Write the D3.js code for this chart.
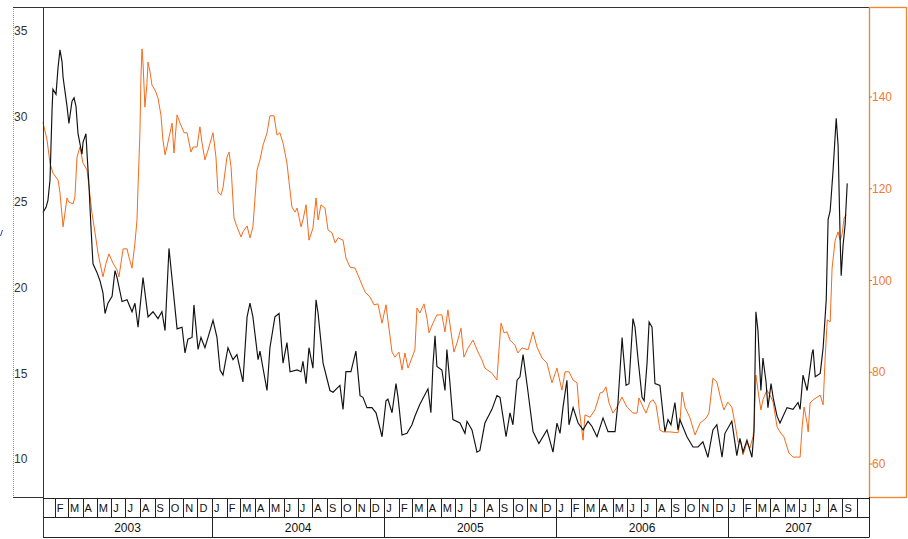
<!DOCTYPE html>
<html>
<head>
<meta charset="utf-8">
<script src="https://cdn.jsdelivr.net/npm/d3@7"></script>
<style>
  body { margin: 0; background: #fff; }
  svg { display: block; font-family: "Liberation Sans", Arial, sans-serif; }
</style>
</head>
<body>
<svg width="908" height="539"></svg>
<script>
// time as decimal years
var blackT = [2003.016,2003.034,2003.045,2003.057,2003.069,2003.074,2003.092,2003.104,2003.115,2003.127,2003.133,2003.156,2003.167,2003.185,2003.197,2003.208,2003.220,2003.243,2003.249,2003.266,2003.272,2003.284,2003.295,2003.307,2003.330,2003.348,2003.365,2003.377,2003.394,2003.418,2003.435,2003.447,2003.476,2003.505,2003.534,2003.551,2003.569,2003.598,2003.627,2003.656,2003.685,2003.708,2003.726,2003.749,2003.767,2003.796,2003.825,2003.842,2003.859,2003.883,2003.894,2003.918,2003.935,2003.958,2003.976,
  2004.005,2004.028,2004.046,2004.063,2004.092,2004.121,2004.144,2004.179,2004.203,2004.220,2004.237,2004.267,2004.278,2004.319,2004.336,2004.365,2004.389,2004.412,2004.435,2004.453,2004.494,2004.517,2004.528,2004.546,2004.563,2004.586,2004.604,2004.616,2004.645,2004.685,2004.703,2004.743,2004.761,2004.778,2004.807,2004.836,2004.860,2004.877,2004.900,2004.929,2004.953,2004.988,
  2005.011,2005.022,2005.046,2005.069,2005.081,2005.104,2005.133,2005.162,2005.179,2005.208,2005.255,2005.272,2005.284,2005.296,2005.307,2005.336,2005.354,2005.365,2005.383,2005.400,2005.441,2005.470,2005.482,2005.511,2005.540,2005.557,2005.586,2005.627,2005.656,2005.674,2005.709,2005.732,2005.749,2005.773,2005.790,2005.808,2005.837,2005.866,2005.900,2005.947,2005.982,
  2006.005,2006.023,2006.040,2006.063,2006.075,2006.099,2006.128,2006.157,2006.186,2006.209,2006.238,2006.273,2006.302,2006.343,2006.360,2006.384,2006.389,2006.407,2006.424,2006.447,2006.459,2006.477,2006.500,2006.512,2006.529,2006.541,2006.558,2006.575,2006.604,2006.633,2006.651,2006.668,2006.691,2006.709,2006.720,2006.761,2006.796,2006.825,2006.854,2006.883,2006.912,2006.935,2006.965,2006.982,
  2007.022,2007.051,2007.069,2007.087,2007.110,2007.139,2007.151,2007.162,2007.174,2007.191,2007.203,2007.221,2007.232,2007.250,2007.262,2007.285,2007.302,2007.343,2007.378,2007.407,2007.419,2007.436,2007.460,2007.489,2007.495,2007.507,2007.536,2007.553,2007.571,2007.582,2007.594,2007.611,2007.629,2007.640,2007.652,2007.658,2007.669,2007.681,2007.693];
var blackV = [24.4,24.7,25.1,26.3,30.4,31.6,31.3,32.9,33.9,33.2,32.3,30.6,29.6,30.9,31.1,30.6,29.0,27.8,28.5,29.0,27.9,25.9,23.6,21.4,20.9,20.4,19.7,18.5,19.1,19.5,21.0,20.6,19.2,19.3,18.6,19.1,17.7,20.6,18.3,18.6,18.2,18.6,17.5,22.3,20.5,17.6,17.7,16.2,17.0,17.1,19.0,16.4,17.1,16.5,17.1,
  18.1,17.1,15.2,14.9,16.5,15.8,16.1,14.5,18.3,19.1,18.3,15.8,16.3,14.0,16.5,18.3,18.5,15.6,16.8,15.1,15.2,15.1,15.7,14.4,16.5,15.3,19.3,18.5,15.6,14.0,13.9,14.3,12.9,15.1,15.1,16.3,13.7,13.6,13.0,13.0,12.7,11.3,
  13.4,13.5,12.7,14.4,13.6,11.4,11.5,12.0,12.5,13.2,14.1,12.7,15.5,17.2,15.4,15.2,14.0,16.4,14.4,12.3,12.1,11.5,12.2,11.7,10.4,10.5,12.1,12.9,13.7,13.6,11.3,12.7,12.0,14.6,14.8,16.1,13.9,11.6,10.9,11.7,10.4,
  12.1,11.5,13.0,14.6,12.0,13.0,12.1,11.7,12.2,11.9,11.3,12.4,11.6,11.6,13.3,17.1,16.4,14.3,14.4,18.2,17.7,15.8,13.6,13.4,15.6,18.0,17.7,14.4,14.3,11.6,12.3,12.0,13.3,11.7,12.3,11.3,10.7,10.7,11.0,10.1,11.7,12.0,10.1,11.5,
  12.2,10.2,11.2,10.4,11.1,10.1,11.6,18.6,17.5,14.0,15.9,14.5,13.0,14.4,13.6,12.5,12.1,13.0,12.9,13.3,12.9,14.9,14.0,16.2,16.4,14.8,15.0,16.5,19.3,24.0,24.5,26.9,29.9,28.3,22.8,20.7,22.5,23.7,26.1];

var orangeT = [2003.016,2003.040,2003.057,2003.074,2003.104,2003.115,2003.133,2003.144,2003.156,2003.167,2003.191,2003.202,2003.214,2003.231,2003.249,2003.272,2003.284,2003.301,2003.319,2003.336,2003.348,2003.365,2003.383,2003.400,2003.423,2003.447,2003.458,2003.482,2003.505,2003.516,2003.534,2003.551,2003.563,2003.569,2003.580,2003.586,2003.592,2003.598,2003.609,2003.621,2003.627,2003.639,2003.650,2003.668,2003.685,2003.702,2003.714,2003.726,2003.737,2003.755,2003.767,2003.778,2003.796,2003.813,2003.837,2003.854,2003.877,2003.889,2003.912,2003.929,2003.941,2003.958,2003.976,
  2004.005,2004.022,2004.034,2004.051,2004.063,2004.086,2004.098,2004.110,2004.127,2004.144,2004.168,2004.179,2004.203,2004.220,2004.237,2004.261,2004.278,2004.296,2004.319,2004.336,2004.360,2004.377,2004.394,2004.412,2004.435,2004.447,2004.464,2004.482,2004.494,2004.517,2004.528,2004.546,2004.563,2004.586,2004.604,2004.616,2004.633,2004.656,2004.674,2004.697,2004.715,2004.732,2004.761,2004.778,2004.802,2004.831,2004.860,2004.889,2004.918,2004.941,2004.964,2004.988,
  2005.011,2005.022,2005.046,2005.063,2005.086,2005.104,2005.121,2005.139,2005.179,2005.191,2005.208,2005.232,2005.249,2005.261,2005.284,2005.307,2005.336,2005.354,2005.371,2005.389,2005.406,2005.424,2005.447,2005.464,2005.488,2005.517,2005.546,2005.569,2005.586,2005.627,2005.656,2005.668,2005.680,2005.697,2005.715,2005.732,2005.761,2005.778,2005.802,2005.837,2005.866,2005.889,2005.918,2005.947,2005.976,
  2006.005,2006.034,2006.052,2006.075,2006.099,2006.122,2006.133,2006.157,2006.168,2006.197,2006.226,2006.256,2006.273,2006.290,2006.308,2006.331,2006.354,2006.383,2006.412,2006.447,2006.471,2006.482,2006.506,2006.523,2006.546,2006.564,2006.581,2006.604,2006.622,2006.662,2006.709,2006.720,2006.732,2006.750,2006.779,2006.808,2006.837,2006.872,2006.889,2006.912,2006.935,2006.959,2006.976,2006.999,
  2007.022,2007.040,2007.058,2007.075,2007.087,2007.110,2007.127,2007.145,2007.151,2007.162,2007.174,2007.191,2007.203,2007.226,2007.244,2007.262,2007.285,2007.302,2007.325,2007.354,2007.378,2007.419,2007.431,2007.442,2007.460,2007.466,2007.477,2007.495,2007.536,2007.553,2007.565,2007.577,2007.594,2007.605,2007.623,2007.640,2007.652,2007.663,2007.675,2007.687];
var orangeV = [134.5,130.6,125.6,123.4,121.9,119.1,111.7,114.7,118.0,117.1,116.7,118.2,126.9,129.1,125.6,124.1,120.4,114.7,110.4,106.0,103.8,100.8,103.8,105.8,103.8,102.3,100.8,106.9,106.9,105.1,102.7,108.2,113.2,120.4,132.2,144.4,150.5,147.4,137.8,143.1,147.6,145.4,142.6,141.5,139.8,136.1,130.6,127.4,129.1,132.2,134.3,127.8,136.1,134.3,132.2,132.2,128.0,129.1,129.1,133.5,130.0,126.3,128.4,
  132.2,126.9,119.3,118.6,120.2,126.9,128.0,124.7,113.6,111.7,109.5,110.6,111.9,109.3,111.7,124.1,126.3,129.5,132.2,135.9,135.9,131.7,132.2,130.0,125.6,121.5,116.0,114.9,115.8,111.7,113.2,116.5,108.8,111.4,118.0,113.2,116.5,115.8,111.0,110.4,108.2,109.3,108.8,104.9,102.9,102.7,100.1,97.5,96.4,94.7,94.9,90.7,
  94.7,91.4,84.4,83.3,84.4,80.5,84.2,80.9,84.9,94.0,92.9,94.9,91.8,88.6,90.7,92.5,92.5,88.8,93.6,88.8,84.4,86.4,89.6,83.3,85.3,87.0,84.4,82.7,80.9,79.8,78.3,84.9,90.7,88.6,88.8,87.0,85.9,84.2,85.3,84.9,88.8,85.5,83.1,82.0,77.7,
  80.9,76.1,80.1,80.1,78.3,77.7,72.4,65.2,70.7,70.2,71.8,75.5,75.7,76.8,73.3,71.1,72.4,74.6,72.4,71.1,71.1,74.4,72.4,71.1,73.5,74.0,72.9,67.4,67.0,67.0,66.8,68.9,75.7,72.4,70.0,66.3,68.9,70.0,71.1,78.7,77.9,74.0,71.8,73.5,
  72.4,68.9,64.8,64.8,62.0,64.6,63.5,65.9,68.1,79.4,76.1,71.8,74.0,76.1,75.0,73.5,68.1,67.0,65.9,62.4,61.5,61.5,68.1,72.4,68.9,67.0,73.3,74.0,75.0,72.9,83.3,91.4,91.0,102.7,108.8,110.6,108.8,110.1,113.6,114.3];

var leftTicks = [10, 15, 20, 25, 30, 35];
var rightTicks = [60, 80, 100, 120, 140];
var monthLabels = ["J","F","M","A","M","J","J","A","S","O","N","D"];
var years = [2003, 2004, 2005, 2006, 2007];

var svg = d3.select("svg");
// note: "top" is taken by window.top, so use plot* names
var plotL = 43, plotR = 869, plotT = 7, plotB = 497;

function toDate(t) {
  return new Date(Date.UTC(2003, 0, 1) + (t - 2003) * 365.25 * 864e5);
}

var x = d3.scaleUtc()
    .domain([toDate(2003.0163), toDate(2007.8197)])
    .range([plotL, plotR]);
var yL = d3.scaleLinear().domain([7.78, 36.402]).range([plotB, plotT]);
var yR = d3.scaleLinear().domain([52.807, 159.619]).range([plotB, plotT]);

// frames
svg.append("line").attr("x1", 13.5).attr("x2", 13.5).attr("y1", plotT).attr("y2", plotB)
   .attr("stroke", "#999").attr("stroke-dasharray", "1,1");
svg.append("line").attr("x1", 13).attr("x2", plotR).attr("y1", plotT + 0.5).attr("y2", plotT + 0.5)
   .attr("stroke", "#333");
svg.append("line").attr("x1", 13).attr("x2", plotL).attr("y1", plotB + 0.5).attr("y2", plotB + 0.5)
   .attr("stroke", "#333");
svg.append("rect").attr("x", plotR + 0.5).attr("y", plotT + 0.5).attr("width", 906 - plotR).attr("height", plotB - plotT)
   .attr("fill", "none").attr("stroke", "#f7842c").attr("stroke-width", 1.3);
svg.append("line").attr("x1", plotR + 0.5).attr("x2", plotR + 0.5).attr("y1", plotT + 1).attr("y2", plotB)
   .attr("stroke", "#999").attr("stroke-dasharray", "1,1");

// left axis labels
svg.selectAll(".ltick").data(leftTicks).enter().append("text")
   .attr("x", 14).attr("y", function(d) { return yL(d); })
   .attr("dy", "0.35em").attr("font-size", "12px").attr("fill", "#333")
   .text(function(d) { return d; });

// right axis ticks and labels
svg.selectAll(".rmark").data(rightTicks).enter().append("line")
   .attr("x1", plotR).attr("x2", plotR + 3)
   .attr("y1", function(d) { return yR(d); }).attr("y2", function(d) { return yR(d); })
   .attr("stroke", "#888");
svg.selectAll(".rtick").data(rightTicks).enter().append("text")
   .attr("x", plotR + 3).attr("y", function(d) { return yR(d); })
   .attr("dy", "0.35em").attr("font-size", "12px").attr("fill", "#f07a30")
   .text(function(d) { return d; });

// little blue mark at left edge
svg.append("line").attr("x1", 0.5).attr("x2", 2.5).attr("y1", 236).attr("y2", 230)
   .attr("stroke", "#3344aa");

// lines
var lineL = d3.line()
    .x(function(d) { return x(toDate(d[0])); })
    .y(function(d) { return yL(d[1]); });
var lineR = d3.line()
    .x(function(d) { return x(toDate(d[0])); })
    .y(function(d) { return yR(d[1]); });

svg.append("path").datum(d3.zip(orangeT, orangeV))
   .attr("d", lineR).attr("fill", "none").attr("stroke", "#f66a1a").attr("stroke-width", 1);
svg.append("path").datum(d3.zip(blackT, blackV))
   .attr("d", lineL).attr("fill", "none").attr("stroke", "#111").attr("stroke-width", 1.15);

// plot left border
svg.append("line").attr("x1", plotL + 0.5).attr("x2", plotL + 0.5).attr("y1", plotT).attr("y2", 537)
   .attr("stroke", "#333");

// month / year rows
var axisTop = 498.5, midRow = 517.5, axisBot = 537.5;
var d0 = x.domain()[0], d1 = x.domain()[1];
var g = svg.append("g").attr("stroke", "#222");
g.append("line").attr("x1", plotL).attr("x2", plotR).attr("y1", axisTop).attr("y2", axisTop);
g.append("line").attr("x1", plotL).attr("x2", plotR).attr("y1", midRow).attr("y2", midRow);
g.append("line").attr("x1", plotL).attr("x2", plotR).attr("y1", axisBot).attr("y2", axisBot);
g.append("line").attr("x1", plotR + 0.5).attr("x2", plotR + 0.5).attr("y1", plotB).attr("y2", axisBot);

var months = d3.utcMonth.range(d3.utcMonth.ceil(d0), d1);
g.selectAll(".msep").data(months).enter().append("line")
   .attr("x1", function(d) { return Math.round(x(d)) + 0.5; })
   .attr("x2", function(d) { return Math.round(x(d)) + 0.5; })
   .attr("y1", axisTop).attr("y2", midRow);

var fullMonths = months.filter(function(d) { return d3.utcMonth.offset(d, 1) <= d1; });
svg.selectAll(".mlab").data(fullMonths).enter().append("text")
   .attr("x", function(d) { return x(d) + 2; })
   .attr("y", 512)
   .attr("font-size", "11px").attr("fill", "#111")
   .text(function(d) { return monthLabels[d.getUTCMonth()]; });

var yearStarts = years.slice(1).map(function(yr) { return new Date(Date.UTC(yr, 0, 1)); });
g.selectAll(".ysep").data(yearStarts).enter().append("line")
   .attr("x1", function(d) { return Math.round(x(d)) + 0.5; })
   .attr("x2", function(d) { return Math.round(x(d)) + 0.5; })
   .attr("y1", midRow).attr("y2", axisBot);

svg.selectAll(".ylab").data(years).enter().append("text")
   .attr("x", function(yr) {
     var a = Math.max(x(new Date(Date.UTC(yr, 0, 1))), plotL);
     var b = Math.min(x(new Date(Date.UTC(yr + 1, 0, 1))), plotR);
     return (a + b) / 2;
   })
   .attr("y", 532).attr("text-anchor", "middle")
   .attr("font-size", "12px").attr("fill", "#111")
   .text(function(yr) { return yr; });
</script>
</body>
</html>
